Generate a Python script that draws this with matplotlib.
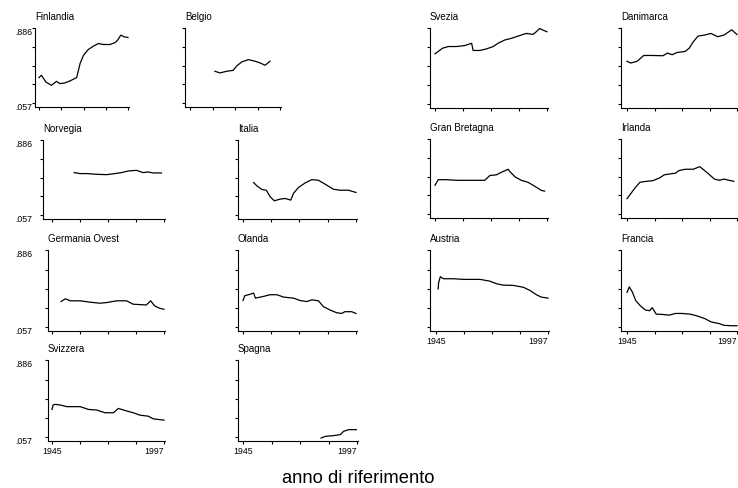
import numpy as np
import matplotlib
matplotlib.use("Agg")
import matplotlib.pyplot as plt

plt.rcParams['font.family'] = ['Liberation Sans', 'DejaVu Sans']

W, H = 738, 488
Y_TICKS = np.linspace(0.057, 0.886, 5)
X_TICKS = [1945, 1958, 1971, 1984, 1997]

# series (year, value)
finlandia_x = [1945, 1946.4, 1949, 1952.3, 1955.2, 1957.2, 1960, 1963, 1967, 1969, 1971,
               1973.8, 1976.7, 1979.7, 1982.6, 1986.5, 1989.5, 1990.9, 1992.8, 1994.8, 1997]
finlandia_y = [0.340, 0.366, 0.291, 0.254, 0.298, 0.273, 0.280, 0.302, 0.340, 0.496, 0.588,
               0.652, 0.689, 0.719, 0.708, 0.708, 0.730, 0.756, 0.812, 0.793, 0.786]

belgio_x = [1959.4, 1962.3, 1966.2, 1970, 1972, 1974.9, 1978.7, 1982.6, 1985.5, 1988.4, 1991.2]
belgio_y = [0.410, 0.392, 0.410, 0.421, 0.470, 0.514, 0.540, 0.522, 0.503, 0.477, 0.522]

svezia_x = [1945, 1946.5, 1948.5, 1951.2, 1955, 1958.9, 1962, 1962.7, 1965.8, 1968.9, 1972,
            1974.3, 1977.4, 1980.5, 1983.6, 1987.4, 1990.5, 1992, 1993.6, 1995.2, 1997]
svezia_y = [0.608, 0.634, 0.670, 0.688, 0.688, 0.699, 0.724, 0.645, 0.645, 0.662, 0.688,
            0.724, 0.760, 0.778, 0.803, 0.832, 0.821, 0.850, 0.886, 0.868, 0.850]

danimarca_x = [1945, 1946.8, 1949.8, 1952.9, 1956.7, 1962, 1964.1, 1966.4, 1968.7, 1972.5,
               1974.4, 1976.4, 1978.6, 1981.7, 1984.7, 1987.8, 1990.9, 1994.5, 1997]
danimarca_y = [0.526, 0.507, 0.526, 0.590, 0.590, 0.587, 0.616, 0.598, 0.623, 0.634,
               0.670, 0.742, 0.803, 0.814, 0.832, 0.796, 0.814, 0.872, 0.820]

norvegia_x = [1955.3, 1958, 1961.2, 1965.8, 1970.4, 1974.2, 1977.3, 1980.4, 1984.2, 1987.3,
              1989.6, 1991.9, 1995.8]
norvegia_y = [0.529, 0.518, 0.518, 0.510, 0.506, 0.518, 0.529, 0.547, 0.554, 0.529,
              0.536, 0.525, 0.525]

italia_x = [1949.9, 1951.4, 1953.7, 1955.7, 1957.5, 1959.4, 1962.1, 1964.4, 1967, 1968.2,
            1970.5, 1973.6, 1976.7, 1979.7, 1982.8, 1986.6, 1989.6, 1993.5, 1997]
italia_y = [0.418, 0.381, 0.341, 0.333, 0.260, 0.215, 0.234, 0.241, 0.223, 0.297,
            0.363, 0.414, 0.451, 0.444, 0.400, 0.344, 0.333, 0.333, 0.308]

gran_bretagna_x = [1945, 1946.5, 1950.4, 1955, 1961.2, 1968.1, 1970.5, 1973.5, 1976.6, 1979,
                   1979.7, 1982.3, 1985.1, 1988.2, 1991.3, 1994.4, 1995.9]
gran_bretagna_y = [0.377, 0.439, 0.439, 0.432, 0.432, 0.432, 0.486, 0.493, 0.530, 0.555,
                   0.530, 0.468, 0.432, 0.410, 0.366, 0.319, 0.312]

irlanda_x = [1945, 1946.5, 1948.8, 1951.1, 1954.2, 1957.2, 1960.3, 1962.6, 1965.6, 1967.9,
             1969.5, 1972.5, 1976.3, 1979.4, 1980.9, 1983.2, 1986.3, 1988.6, 1990.9, 1993.2,
             1995.5]
irlanda_y = [0.228, 0.275, 0.348, 0.410, 0.421, 0.428, 0.457, 0.493, 0.504, 0.511,
             0.540, 0.555, 0.555, 0.584, 0.555, 0.511, 0.446, 0.432, 0.446, 0.432, 0.421]

germania_x = [1949.2, 1951.2, 1953.5, 1958.1, 1962.7, 1967.3, 1970.4, 1975, 1979.6, 1982.7,
              1988.8, 1990.8, 1992.7, 1995, 1997]
germania_y = [0.333, 0.363, 0.341, 0.341, 0.326, 0.315, 0.322, 0.341, 0.341, 0.304,
              0.296, 0.341, 0.285, 0.260, 0.249]

olanda_x = [1945, 1945.8, 1947.6, 1949.9, 1950.7, 1954.5, 1957.5, 1960.6, 1963.7, 1968.2,
            1971.3, 1974.4, 1976.7, 1979.7, 1982, 1985.1, 1988.1, 1990.4, 1991.9, 1995, 1997]
olanda_y = [0.344, 0.396, 0.407, 0.425, 0.370, 0.389, 0.407, 0.407, 0.381, 0.370,
            0.344, 0.333, 0.352, 0.341, 0.278, 0.241, 0.212, 0.204, 0.223, 0.223, 0.204]

austria_x = [1946, 1946.2, 1947, 1948.5, 1953.2, 1957.8, 1965.5, 1970, 1973.2, 1976.2,
             1980.8, 1985.5, 1988.5, 1991.6, 1993.9, 1997]
austria_y = [0.470, 0.536, 0.602, 0.580, 0.580, 0.573, 0.573, 0.554, 0.525, 0.511,
             0.508, 0.488, 0.455, 0.407, 0.381, 0.370]

francia_x = [1945, 1946.1, 1947.6, 1949.1, 1951.4, 1953.7, 1955.7, 1956.9, 1958.8, 1961.8,
             1964.9, 1967.9, 1971, 1974.8, 1977.9, 1981.7, 1984.8, 1988.6, 1990.9, 1994.7, 1997]
francia_y = [0.433, 0.492, 0.433, 0.344, 0.285, 0.241, 0.234, 0.267, 0.197, 0.193,
             0.186, 0.204, 0.204, 0.197, 0.179, 0.149, 0.112, 0.094, 0.075, 0.071, 0.071]

svizzera_x = [1945, 1945.5, 1946.5, 1948.8, 1951.9, 1958.1, 1961.9, 1965.8, 1969.6, 1973.5,
              1975.8, 1978.8, 1982.7, 1985.8, 1989.6, 1992, 1997]
svizzera_y = [0.356, 0.404, 0.411, 0.404, 0.386, 0.386, 0.356, 0.349, 0.320, 0.320,
              0.367, 0.345, 0.320, 0.294, 0.283, 0.254, 0.240]

spagna_x = [1980.6, 1982.5, 1986.3, 1989.4, 1990.9, 1993.2, 1996.7]
spagna_y = [0.046, 0.064, 0.072, 0.083, 0.119, 0.137, 0.137]

# name, x, y, (axis left px, 1945 px, 1997 px, top px, x-axis px), ylabels, xlabels
panels = [
    ("Finlandia", finlandia_x, finlandia_y, (35, 39, 128, 28, 107), True, False),
    ("Belgio", belgio_x, belgio_y, (185, 190, 280, 28, 107), False, False),
    ("Svezia", svezia_x, svezia_y, (430, 435, 547, 28, 108), False, False),
    ("Danimarca", danimarca_x, danimarca_y, (621, 627, 737, 28, 108), False, False),
    ("Norvegia", norvegia_x, norvegia_y, (43, 52, 164, 140, 219), True, False),
    ("Italia", italia_x, italia_y, (238, 243, 356, 140, 219), False, False),
    ("Gran Bretagna", gran_bretagna_x, gran_bretagna_y, (430, 435, 547, 139, 218), False, False),
    ("Irlanda", irlanda_x, irlanda_y, (621, 627, 737, 139, 218), False, False),
    ("Germania Ovest", germania_x, germania_y, (48, 52, 164, 250, 331), True, False),
    ("Olanda", olanda_x, olanda_y, (238, 243, 356, 250, 331), False, False),
    ("Austria", austria_x, austria_y, (430, 436, 548, 250, 331), False, True),
    ("Francia", francia_x, francia_y, (621, 627, 737, 250, 331), False, True),
    ("Svizzera", svizzera_x, svizzera_y, (48, 52, 164, 360, 441), True, True),
    ("Spagna", spagna_x, spagna_y, (238, 243, 357, 360, 441), False, True),
]

fig = plt.figure(figsize=(W / 100, H / 100), dpi=100)

for name, xs, ys, (x0, x45, x97, ytop, yax), ylab, xlab in panels:
    ppy = (x97 - x45) / 52.0
    xmin = 1945 - (x45 - x0) / ppy
    xmax = 1997 + 1.0 / ppy
    gap = 4
    scale = 0.829 / (yax - gap - ytop)
    ymin = 0.057 - gap * scale
    ymax = 0.886 + 0.5 * scale
    right = x97 + 1
    ax = fig.add_axes([x0 / W, 1 - yax / H, (right - x0) / W, (yax - ytop) / H])
    ax.plot(xs, ys, color='black', lw=0.9)
    ax.set_xlim(xmin, xmax)
    ax.set_ylim(ymin, ymax)
    for s in ['top', 'right']:
        ax.spines[s].set_visible(False)
    for s in ['left', 'bottom']:
        ax.spines[s].set_linewidth(0.8)
    ax.set_yticks(Y_TICKS)
    ax.set_xticks(X_TICKS)
    ypad = (x0 - 3 - 33) / 1.389
    ax.tick_params(axis='y', direction='out', length=2.5, width=0.8, pad=ypad, labelsize=6.3)
    ax.tick_params(axis='x', direction='out', length=2.5, width=0.8, pad=2, labelsize=6.3)
    if ylab:
        ax.set_yticklabels(['.057', '', '', '', '.886'])
        for t in ax.get_yticklabels():
            t.set_va('top')
    else:
        ax.set_yticklabels([])
    if xlab:
        ax.set_xticklabels(['1945', '', '', '', '1997'])
        ax.get_xticklabels()[-1].set_ha('right')
    else:
        ax.set_xticklabels([])
    ax.annotate(name, xy=(0, 1), xycoords='axes fraction', xytext=(0, 6),
                textcoords='offset points', ha='left', va='baseline', fontsize=7)

fig.text(358 / W, 1 - 483 / H, "anno di riferimento", ha='center', va='baseline', fontsize=13.2)

fig.savefig("out.png", dpi=100)
